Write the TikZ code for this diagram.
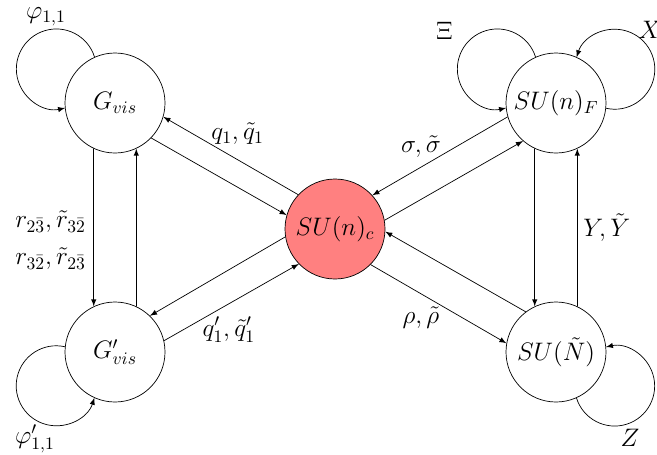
\documentclass[tikz,border=0pt]{standalone}
\usepackage{amsmath}
\begin{document}
\begin{tikzpicture}[line join=round, line cap=round, >=latex, font=\Large,
	grp/.style={circle,draw,minimum size=2cm,inner sep=0pt}]
	\useasboundingbox (0,0) rectangle (13.14,9.08);
	\node[grp] (gv) at (2.3,7.02) {$G_{vis}$};
	\node[grp] (gp) at (2.3,2.04) {$G'_{vis}$};
	\node[grp,fill=red!50] (c) at (6.7,4.5) {$SU(n)_c$};
	\node[grp] (f) at (11.12,7.02) {$SU(n)_F$};
	\node[grp] (n) at (11.12,2.04) {$SU(\tilde{N})$};
	% vertical pairs
	\draw[->] (gv.245) -- node[left=1pt,pos=0.58,align=center] (lr) {$r_{2\bar{3}},\tilde{r}_{3\bar{2}}$\\[3pt]$r_{3\bar{2}},\tilde{r}_{2\bar{3}}$} (gp.115);
	\draw[->] (gp.65) -- (gv.295);
	\draw[->] (n.65) -- node[right] (ly) {$Y,\tilde{Y}$} (f.295);
	\draw[->] (f.245) -- (n.115);
	% diagonals
	\draw[->] (c.137) -- node[above=5pt,pos=0.45] (lq) {$q_1,\tilde{q}_1$} (gv.-16);
	\draw[->] (gv.-44) -- (c.164);
	\draw[->] (c.189) -- (gp.46);
	\draw[->] (gp.13) -- node[below=4pt,pos=0.48] (lqp) {$q'_1,\tilde{q}'_1$} (c.224);
	\draw[->] (f.196) -- node[above=2pt,pos=0.64] (ls) {$\sigma,\tilde{\sigma}$} (c.42);
	\draw[->] (c.10) -- (f.229);
	\draw[->] (c.-45) -- node[below=4pt,pos=0.37] (lrho) {$\rho,\tilde{\rho}$} (n.170);
	\draw[->] (n.127) -- (c.-3);
	% loops
	\foreach \nd/\b in {gv/150, gp/210, f/150, f/30, n/-30}{
		\pgfmathsetmacro{\bs}{\b-36}
		\draw[->] (\nd.\bs) arc[start angle=\b-132.6, end angle=\b+132.6, radius=0.8cm];}
	\node (lphi) at (0.92,8.74) {$\varphi_{1,1}$};
	\node (lphip) at (0.7,0.3) {$\varphi'_{1,1}$};
	\node (lxi) at (8.89,8.46) {$\Xi$};
	\node (lx) at (13.0,8.48) {$X$};
	\node (lz) at (12.6,0.33) {$Z$};
\end{tikzpicture}
\end{document}
